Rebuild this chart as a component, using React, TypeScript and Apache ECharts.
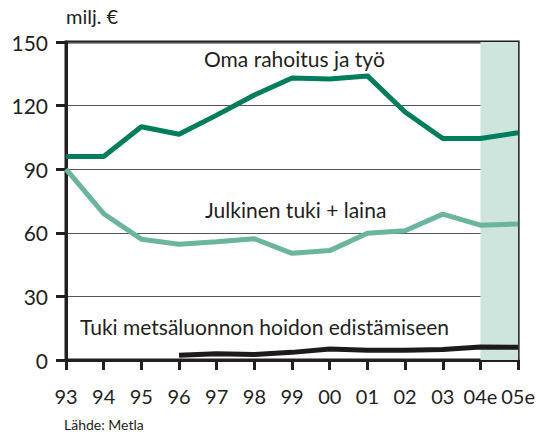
import React, { useEffect, useRef } from "react";
import * as echarts from "echarts";

const categories = ["93", "94", "95", "96", "97", "98", "99", "00", "01", "02", "03", "04e", "05e"];
const omaRahoitus = [96, 96, 110, 106.5, 115.5, 125, 133, 132.5, 134, 117, 104.5, 104.5, 107.2];
const julkinenTuki = [90, 69, 57, 54.6, 55.8, 57.2, 50.3, 51.6, 59.8, 61, 68.8, 63.6, 64.2];
const tukiMetsaluonto = [null, null, null, 2.2, 3, 2.6, 3.6, 5.2, 4.6, 4.6, 5, 6.1, 6];
const yTicks = [0, 30, 60, 90, 120, 150];

const FONT = "Lato, 'Open Sans', sans-serif";

export default function App() {
  const ref = useRef<HTMLDivElement>(null);
  useEffect(() => {
    if (!ref.current) return;
    const chart = echarts.init(ref.current, undefined, { renderer: "svg" });
    chart.setOption({
      animation: false,
      backgroundColor: "#ffffff",
      textStyle: { fontFamily: FONT },
      grid: {
        left: 66,
        right: 19,
        top: 42,
        bottom: 75,
        show: true,
        borderColor: "#231f20",
        borderWidth: 3,
      },
      xAxis: {
        type: "category",
        data: categories,
        boundaryGap: false,
        axisLine: { lineStyle: { color: "#231f20", width: 3 } },
        axisTick: { show: true, interval: 0, length: 10, lineStyle: { color: "#231f20", width: 3 } },
        axisLabel: { color: "#231f20", fontSize: 20, margin: 26, interval: 0, hideOverlap: false, fontFamily: FONT },
        splitLine: { show: false },
      },
      yAxis: {
        type: "value",
        min: 0,
        max: 150,
        interval: 30,
        axisLine: { show: true, lineStyle: { color: "#231f20", width: 3 } },
        axisTick: { show: true, length: 10, lineStyle: { color: "#231f20", width: 3 } },
        axisLabel: {
          color: "#231f20",
          fontSize: 21,
          margin: 18,
          fontFamily: FONT,
          formatter: (v: number) => (yTicks.includes(v) ? String(v) : ""),
        },
        splitLine: { show: true, lineStyle: { color: "#555555", width: 1 } },
      },
      series: [
        {
          name: "Oma rahoitus ja työ",
          type: "line",
          data: omaRahoitus,
          symbol: "none",
          lineStyle: { color: "#007e5b", width: 5 },
          z: 3,
          markArea: {
            silent: true,
            itemStyle: { color: "#cde5dd" },
            data: [[{ xAxis: "04e" }, { xAxis: "05e" }]],
          },
        },
        {
          name: "Julkinen tuki + laina",
          type: "line",
          data: julkinenTuki,
          symbol: "none",
          lineStyle: { color: "#69b59e", width: 5 },
          z: 3,
        },
        {
          name: "Tuki metsäluonnon hoidon edistämiseen",
          type: "line",
          data: tukiMetsaluonto,
          symbol: "none",
          lineStyle: { color: "#1e1a1b", width: 5 },
          z: 3,
        },
      ],
      graphic: [
        { type: "text", left: 66, top: 6, style: { text: "milj. €", fontSize: 20, fill: "#231f20", fontFamily: FONT } },
        { type: "text", left: 204, top: 48, style: { text: "Oma rahoitus ja työ", fontSize: 21, fill: "#231f20", fontFamily: FONT } },
        { type: "text", left: 205, top: 199, style: { text: "Julkinen tuki + laina", fontSize: 21, fill: "#231f20", fontFamily: FONT } },
        { type: "text", left: 80, top: 316, style: { text: "Tuki metsäluonnon hoidon edistämiseen", fontSize: 21, fill: "#231f20", fontFamily: FONT } },
        { type: "text", left: 64, top: 417, style: { text: "Lähde: Metla", fontSize: 14, fill: "#231f20", fontFamily: FONT } },
      ],
    });
    return () => chart.dispose();
  }, []);
  return <div ref={ref} style={{ position: "fixed", left: 0, top: 0, width: 538, height: 435 }} />;
}
